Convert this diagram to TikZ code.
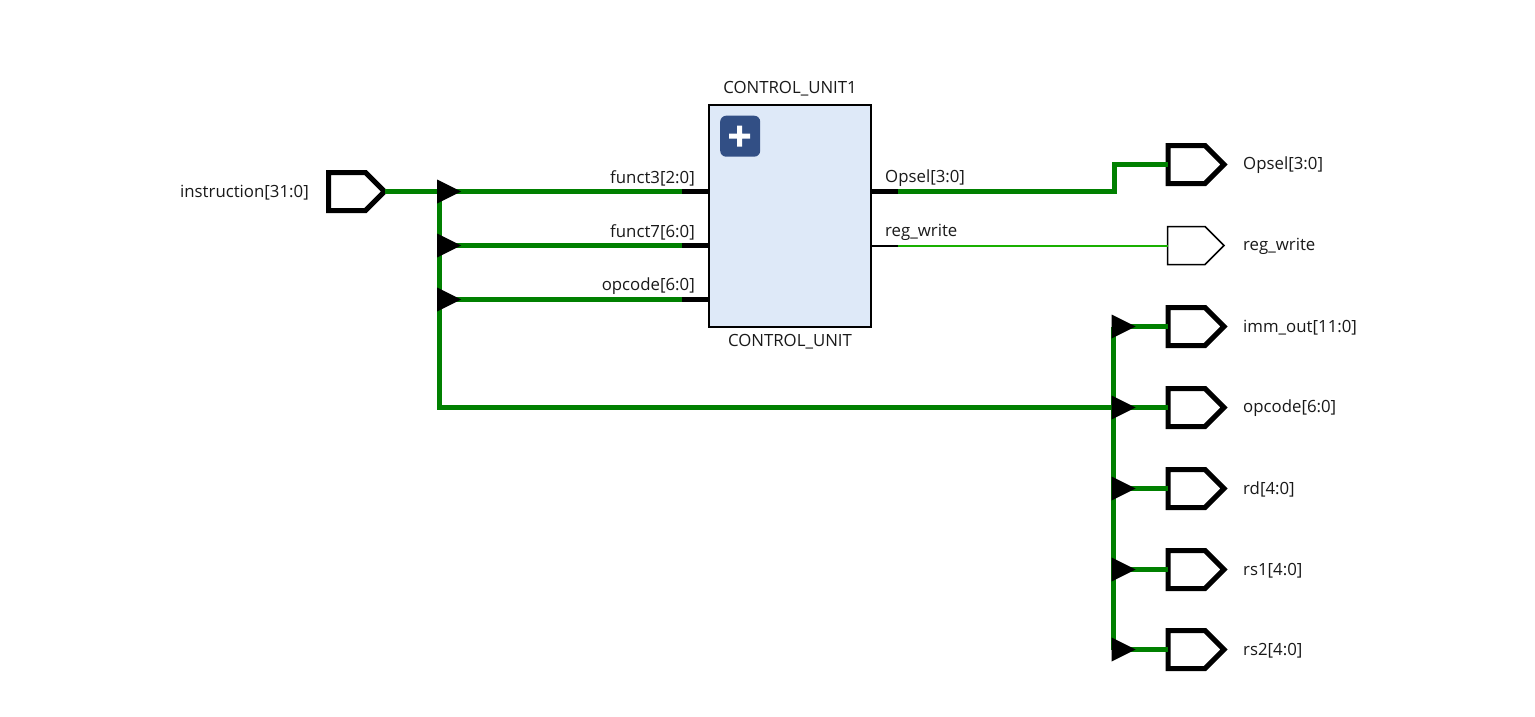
\documentclass[tikz,border=0pt]{standalone}
\usepackage{fontspec}
\setmainfont{Open Sans}
\usetikzlibrary{shapes.symbols}
\definecolor{buswire}{HTML}{008000}
\definecolor{netwire}{HTML}{19B000}
\definecolor{blockfill}{HTML}{DEE9F8}
\definecolor{plusfill}{HTML}{324F85}
\tikzset{
  x=1pt,y=-1pt,
  busport/.style={signal,signal to=east,signal pointer angle=90,draw=black,fill=white,line width=5pt,minimum width=56pt,minimum height=38pt,inner sep=0pt,outer sep=0pt,anchor=west,miter limit=10},
  netport/.style={busport,line width=1.5pt,minimum width=56.5pt},
  lbl/.style={font=\fontsize{16.8pt}{19pt}\selectfont,inner sep=0pt,text=black!90},
  llbl/.style={lbl,anchor=west},
  rlbl/.style={lbl,anchor=east},
  clbl/.style={lbl,anchor=center},
  bus/.style={draw=buswire,line width=5pt,line join=miter},
  net/.style={draw=netwire,line width=2pt},
  stubthick/.style={draw=black,line width=5pt},
  stubthin/.style={draw=black,line width=2pt},
  tap/.style={fill=black,draw=none},
}
\newcommand{\junction}[1]{\path[tap] (#1) ++(-2,-12) -- ++(24,12) -- ++(-24,12) -- cycle;}
\begin{document}
\begin{tikzpicture}
\useasboundingbox[fill=white] (0,-0.5) rectangle (1535,716.5);
% block
\node[draw=black,fill=blockfill,line width=2pt,minimum width=162pt,minimum height=221pt,inner sep=0pt,outer sep=0pt,anchor=north west] (cu) at (709,105) {};
\node[fill=plusfill,rounded corners=6pt,minimum width=40pt,minimum height=41pt,inner sep=0pt,anchor=north west] (plus) at (720,115) {};
\fill[white] (729,133) rectangle (750,138) (737,125) rectangle (742,146);
\node[clbl] (cutop) at (790,88) {CONTROL\_UNIT1};
\node[clbl] (cubot) at (790,341) {CONTROL\_UNIT};
% ports
\node[busport] (instr) at (328.5,191) {};
\node[busport] (popsel) at (1168,164) {};
\node[netport] (preg) at (1167.5,245) {};
\node[busport] (pimm) at (1168,326) {};
\node[busport] (popc) at (1168,407) {};
\node[busport] (prd) at (1168,488) {};
\node[busport] (prs1) at (1168,569) {};
\node[busport] (prs2) at (1168,649) {};
% coordinates
\coordinate (j1) at (439,191);
\coordinate (j2) at (439,245);
\coordinate (j3) at (439,299);
\coordinate (k1) at (1113.5,326);
\coordinate (k2) at (1113.5,407);
\coordinate (k3) at (1113.5,488);
\coordinate (k4) at (1113.5,569);
\coordinate (k5) at (1113.5,649);
\coordinate (s1) at (682,191);
\coordinate (s2) at (682,245);
\coordinate (s3) at (682,299);
\coordinate (e1) at (709,191);
\coordinate (e2) at (709,245);
\coordinate (e3) at (709,299);
\coordinate (o1) at (871,191);
\coordinate (o2) at (871,245);
\coordinate (t1) at (898,191);
\coordinate (t2) at (898,245);
\coordinate (b1) at (1114,191);
\coordinate (b2) at (1114,164);
% wires
\draw[bus] (instr.east) -- (j1) -- (s1);
\draw[bus] (j2) -- (s2);
\draw[bus] (j3) -- (s3);
\draw[bus] (j1) -- (439,407) -- (k2) -- (popc.west);
\draw[bus] (k1) -- (k5);
\draw[bus] (k1) -- (pimm.west);
\draw[bus] (k3) -- (prd.west);
\draw[bus] (k4) -- (prs1.west);
\draw[bus] (k5) -- (prs2.west);
\draw[bus] (t1) -- (b1) -- (b2) -- (popsel.west);
\draw[net] (t2) -- (preg.west);
\draw[stubthick] (s1) -- (e1);
\draw[stubthick] (s2) -- (e2);
\draw[stubthick] (s3) -- (e3);
\draw[stubthick] (o1) -- (t1);
\draw[stubthin] (o2) -- (t2);
% taps
\junction{j1}
\junction{j2}
\junction{j3}
\junction{k1}
\junction{k2}
\junction{k3}
\junction{k4}
\junction{k5}
% labels
\node[rlbl] (linstr) at (309,192) {instruction[31:0]};
\node[rlbl] (lf3) at (695,177.5) {funct3[2:0]};
\node[rlbl] (lf7) at (695,231.5) {funct7[6:0]};
\node[rlbl] (lop) at (695,285.5) {opcode[6:0]};
\node[llbl] (lops) at (885,177.5) {Opsel[3:0]};
\node[llbl] (lreg) at (885,231.5) {reg\_write};
\node[llbl] (r1) at (1243,165) {Opsel[3:0]};
\node[llbl] (r2) at (1243,246) {reg\_write};
\node[llbl] (r3) at (1243,327) {imm\_out[11:0]};
\node[llbl] (r4) at (1243,408) {opcode[6:0]};
\node[llbl] (r5) at (1243,489) {rd[4:0]};
\node[llbl] (r6) at (1243,570) {rs1[4:0]};
\node[llbl] (r7) at (1243,650) {rs2[4:0]};
\end{tikzpicture}
\end{document}
